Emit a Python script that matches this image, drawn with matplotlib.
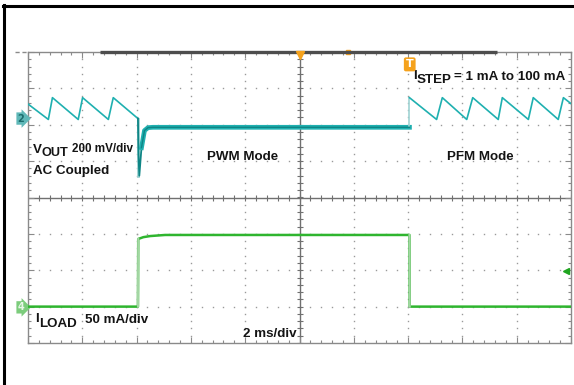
import matplotlib
matplotlib.use("Agg")
import matplotlib.pyplot as plt
from matplotlib.lines import Line2D
import numpy as np

# ── Scope settings ───────────────────────────────────────────────────────────
TIME_PER_DIV = 2.0       # ms/div
VOUT_PER_DIV = 200.0     # mV/div
ILOAD_PER_DIV = 50.0     # mA/div
CH2_OFFSET = 2.17        # div, ground marker of VOUT
CH4_OFFSET = -3.02       # div, ground marker of ILOAD

# ── Waveforms read from the capture ─────────────────────────────────────────
# VOUT (AC coupled, mV) : PFM ripple, load step, PWM, back to PFM
vout_pfm1_t = [0.0, 0.75, 0.90, 1.85, 2.01, 2.96, 3.14, 4.05]
vout_pfm1_mv = [80, -5, 115, -5, 115, -5, 115, 0]
vout_dip_t = [4.05, 4.07, 4.10, 4.18]
vout_dip_mv = [0, -200, -314, -160]
vout_pwm_t = [4.18, 4.29, 4.42, 4.60, 14.05]
vout_pwm_mv = [-160, -66, -50, -48, -48]
vout_pfm2_t = [14.05, 15.05, 15.26, 16.16, 16.38, 17.32, 17.47, 18.43,
               18.61, 19.53, 19.72, 20.0]
vout_pfm2_mv = [115, -5, 115, -5, 115, -5, 115, -5, 115, -5, 115, 82]

# ILOAD (mA) : 1 mA -> 100 mA -> 1 mA
iload_t = [0.0, 4.05, 4.06, 4.25, 4.50, 5.05, 14.05, 14.06, 20.0]
iload_ma = [1, 1, 94, 96.5, 98, 99.5, 99.5, 1, 1]

TEAL = "#1fb0b0"
TEAL_DARK = "#0e8585"
TEAL_PALE = "#9fd3d3"
GREEN = "#2fb52f"
GREEN_PALE = "#a3d6a3"
ORANGE = "#f5a21c"


def to_div_t(t):
    return np.asarray(t) / TIME_PER_DIV


def vout_div(v):
    return CH2_OFFSET + np.asarray(v) / VOUT_PER_DIV


def iload_div(i):
    return CH4_OFFSET + np.asarray(i) / ILOAD_PER_DIV


fig = plt.figure(figsize=(5.74, 3.85), dpi=100)
ax = fig.add_axes([28 / 574, 1 - 343 / 385, 543 / 574, 291 / 385])
ax.set_xlim(0, 10)
ax.set_ylim(-4, 4)

# ── Graticule ────────────────────────────────────────────────────────────────
for s in ax.spines.values():
    s.set_color("#8a8a8a")
    s.set_linewidth(1.0)
ax.set_xticks(np.arange(0, 11, 1))
ax.set_yticks(np.arange(-4, 5, 1))
ax.set_xticks(np.arange(0, 10.01, 0.2), minor=True)
ax.set_yticks(np.arange(-4, 4.01, 0.2), minor=True)
ax.tick_params(which="both", direction="in", top=True, right=True,
               labelbottom=False, labelleft=False, color="#8a8a8a", width=0.8)
ax.tick_params(which="major", length=4)
ax.tick_params(which="minor", length=2.5)

dots_y = np.arange(-4, 4.01, 0.2)
dots_x = np.arange(0, 10.01, 0.2)
for gx in range(1, 10):
    if gx == 5:
        continue
    ax.plot(np.full_like(dots_y, gx), dots_y, ls="none", marker="s",
            ms=1.0, mew=0, color="#9a9a9a", zorder=1)
for gy in range(-3, 4):
    if gy == 0:
        continue
    ax.plot(dots_x, np.full_like(dots_x, gy), ls="none", marker="s",
            ms=1.0, mew=0, color="#9a9a9a", zorder=1)

ax.axvline(5, color="#707070", lw=1.0, zorder=1)
ax.axhline(0, color="#707070", lw=1.0, zorder=1)
ax.plot(np.full_like(dots_y, 5), dots_y, ls="none", marker="_", ms=5,
        mew=0.8, color="#707070", zorder=1)
ax.plot(dots_x, np.zeros_like(dots_x), ls="none", marker="|", ms=5,
        mew=0.8, color="#707070", zorder=1)

# status bar on top edge
ax.plot([1.33, 8.64], [4, 4], color="#4d4d4d", lw=2.4, clip_on=False,
        solid_capstyle="butt", zorder=3)
ax.plot([-0.24, 0], [4, 4], color="#8a8a8a", lw=1.0, ls=(0, (3, 2)),
        clip_on=False)

# ── Traces ───────────────────────────────────────────────────────────────────
ax.plot(to_div_t(vout_pfm1_t), vout_div(vout_pfm1_mv), color=TEAL, lw=1.2,
        zorder=4)
ax.plot(to_div_t([vout_dip_t[0], vout_dip_t[0]]),
        vout_div([vout_dip_mv[0], vout_dip_mv[2]]), color=TEAL_PALE,
        lw=2.0, zorder=3)
ax.plot(to_div_t(vout_dip_t), vout_div(vout_dip_mv), color=TEAL_DARK,
        lw=1.3, zorder=4)
ax.plot(to_div_t(vout_pwm_t), vout_div(vout_pwm_mv), color=TEAL,
        lw=3.4, zorder=4, solid_joinstyle="round")
ax.plot(to_div_t(vout_pwm_t), vout_div(vout_pwm_mv), color=TEAL_DARK,
        lw=1.0, zorder=5)
ax.plot(to_div_t([vout_pwm_t[-1], vout_pfm2_t[0]]),
        vout_div([vout_pwm_mv[-1], vout_pfm2_mv[0]]), color=TEAL_PALE,
        lw=1.2, zorder=4)
ax.plot(to_div_t(vout_pfm2_t), vout_div(vout_pfm2_mv), color=TEAL, lw=1.2,
        zorder=4)

it = to_div_t(iload_t)
il = iload_div(iload_ma)
ax.plot(it, il, color=GREEN, lw=1.8, zorder=4)
ax.plot(it[1:3], il[1:3], color=GREEN_PALE, lw=1.5, zorder=5)
ax.plot(it[6:8], il[6:8], color=GREEN_PALE, lw=1.5, zorder=5)

# ── Markers ──────────────────────────────────────────────────────────────────
ax.text(-0.13, CH2_OFFSET, "2", ha="center", va="center", fontsize=7,
        fontweight="bold", color="#1c6e6e", clip_on=False,
        bbox=dict(boxstyle="rarrow,pad=0.12", fc="#5fb8b8", ec="none"))
ax.text(-0.13, CH4_OFFSET, "4", ha="center", va="center", fontsize=7,
        fontweight="bold", color="#e8f6e8", clip_on=False,
        bbox=dict(boxstyle="rarrow,pad=0.12", fc="#7ccc7c", ec="none"))
ax.plot([5], [3.93], marker="v", ms=6, color=ORANGE, clip_on=False, zorder=6)
ax.plot([5.89], [4.0], marker="s", ms=3, color=ORANGE, clip_on=False, zorder=2)
ax.text(7.03, 3.66, "T", ha="center", va="center", fontsize=8,
        fontweight="bold", color="white", zorder=6,
        bbox=dict(boxstyle="round,pad=0.18", fc=ORANGE, ec="none"))
ax.plot([9.9], [-2.03], marker="<", ms=5, color="#1fa51f", zorder=6)

# ── Annotations ──────────────────────────────────────────────────────────────
FONT = dict(family="Liberation Sans", fontweight="bold", color="#141414",
            va="center", ha="left", fontsize=9.6)


def px(x, y):
    return (x - 28) / 54.3, (197 - y) / 36.4


ax.text(*px(33, 149), "V", **FONT)
ax.text(*px(42, 152), "OUT", **{**FONT, "fontsize": 9.2})
ax.text(*px(72, 148), "200 mV/div", **{**FONT, "fontsize": 8.4})
ax.text(*px(33, 170), "AC Coupled", **FONT)
ax.text(*px(207, 156), "PWM Mode", **FONT)
ax.text(*px(447, 156), "PFM Mode", **FONT)
ax.text(*px(413, 75), "I", **FONT)
ax.text(*px(417, 79), "STEP", **FONT)
ax.text(*px(454, 76), "= 1 mA to 100 mA", **FONT)
ax.text(*px(35, 319), "I", **FONT)
ax.text(*px(39, 324), "LOAD", **FONT)
ax.text(*px(85, 320), "50 mA/div", **FONT)
ax.text(*px(243, 334), "2 ms/div", **FONT)

# ── Outer frame of the capture ──────────────────────────────────────────────
fig.add_artist(Line2D([4 / 574, 4 / 574], [0, 1 - 5 / 385], color="black",
                      lw=2.2, transform=fig.transFigure))
fig.add_artist(Line2D([3 / 574, 1], [1 - 6 / 385, 1 - 6 / 385], color="black",
                      lw=2.2, transform=fig.transFigure))

fig.savefig("out.png", dpi=100)
